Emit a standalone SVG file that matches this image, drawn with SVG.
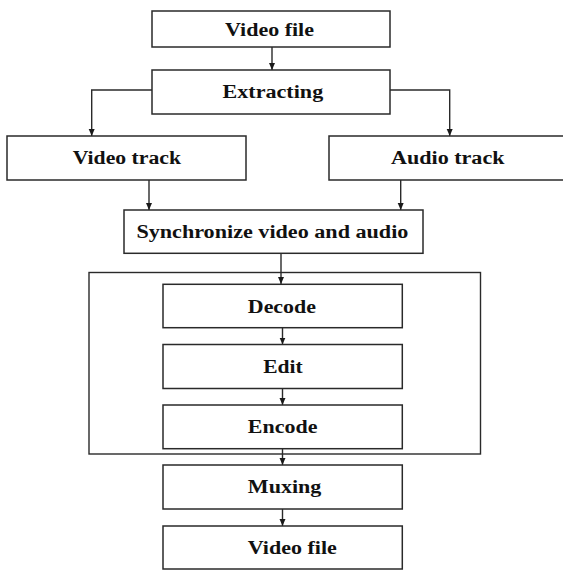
<svg xmlns="http://www.w3.org/2000/svg" width="563" height="570" viewBox="0 0 563 570">
<style>
.box{fill:#fff;stroke:#2a2a2a;stroke-width:1.5}
.cont{fill:none;stroke:#2a2a2a;stroke-width:1.4}
.ln{fill:none;stroke:#2a2a2a;stroke-width:1.4}
.t{font-family:"Liberation Serif","Times New Roman",serif;font-weight:bold;font-size:18.5px;fill:#111}
</style>
<defs>
<marker id="ah" markerUnits="userSpaceOnUse" markerWidth="8" markerHeight="8" refX="4" refY="7" orient="auto-start-reverse" viewBox="0 0 8 8">
<path d="M1,0 L7,0 L4,7 Z" fill="#1a1a1a" transform="rotate(-90 4 4)"/>
</marker>
<marker id="a" markerUnits="userSpaceOnUse" markerWidth="8" markerHeight="8" refX="7" refY="4" orient="auto" viewBox="0 0 8 8">
<path d="M0,1 L7,4 L0,7 Z" fill="#1a1a1a"/>
</marker>
</defs>
<rect width="563" height="570" fill="#fff"/>
<g id="container"><rect class="cont" x="89" y="272.5" width="391.5" height="181.5"/></g>
<g id="connectors">
<path class="ln" d="M272,47 V70" marker-end="url(#a)"/>
<path class="ln" d="M152,90 H91.7 V136" marker-end="url(#a)"/>
<path class="ln" d="M390,90 H449.7 V136" marker-end="url(#a)"/>
<path class="ln" d="M149,180 V210" marker-end="url(#a)"/>
<path class="ln" d="M400.7,180 V210" marker-end="url(#a)"/>
<path class="ln" d="M281,253 V284" marker-end="url(#a)"/>
<path class="ln" d="M282.5,328 V344.5" marker-end="url(#a)"/>
<path class="ln" d="M282.5,388.5 V405" marker-end="url(#a)"/>
<path class="ln" d="M282.5,449 V465" marker-end="url(#a)"/>
<path class="ln" d="M282.5,509 V526" marker-end="url(#a)"/>
</g>
<g id="n-videofile"><rect class="box" x="152" y="11" width="238" height="36"/><text class="t" x="225" y="35.5" textLength="89" lengthAdjust="spacingAndGlyphs">Video file</text></g>
<g id="n-extracting"><rect class="box" x="152" y="70" width="238" height="44"/><text class="t" x="222.6" y="98" textLength="100.6" lengthAdjust="spacingAndGlyphs">Extracting</text></g>
<g id="n-videotrack"><rect class="box" x="7" y="136" width="239" height="44"/><text class="t" x="72.7" y="164.3" textLength="108.3" lengthAdjust="spacingAndGlyphs">Video track</text></g>
<g id="n-audiotrack"><rect class="box" x="329" y="136" width="236" height="44"/><text class="t" x="391" y="164.3" textLength="113.5" lengthAdjust="spacingAndGlyphs">Audio track</text></g>
<g id="n-sync"><rect class="box" x="124" y="210" width="299" height="43.3"/><text class="t" x="136.4" y="238" textLength="272" lengthAdjust="spacingAndGlyphs">Synchronize video and audio</text></g>
<g id="n-decode"><rect class="box" x="163" y="284.3" width="239.3" height="43.4"/><text class="t" x="247.8" y="312.5" textLength="68.2" lengthAdjust="spacingAndGlyphs">Decode</text></g>
<g id="n-edit"><rect class="box" x="163" y="344.5" width="239.3" height="44"/><text class="t" x="263.2" y="373" textLength="39.5" lengthAdjust="spacingAndGlyphs">Edit</text></g>
<g id="n-encode"><rect class="box" x="163" y="405" width="239.3" height="43.7"/><text class="t" x="247.8" y="433" textLength="69.6" lengthAdjust="spacingAndGlyphs">Encode</text></g>
<g id="n-muxing"><rect class="box" x="163" y="465" width="239.3" height="44"/><text class="t" x="247.8" y="493" textLength="73.6" lengthAdjust="spacingAndGlyphs">Muxing</text></g>
<g id="n-videofile2"><rect class="box" x="163" y="526" width="239.3" height="43"/><text class="t" x="247.8" y="553.5" textLength="89" lengthAdjust="spacingAndGlyphs">Video file</text></g>
</svg>
